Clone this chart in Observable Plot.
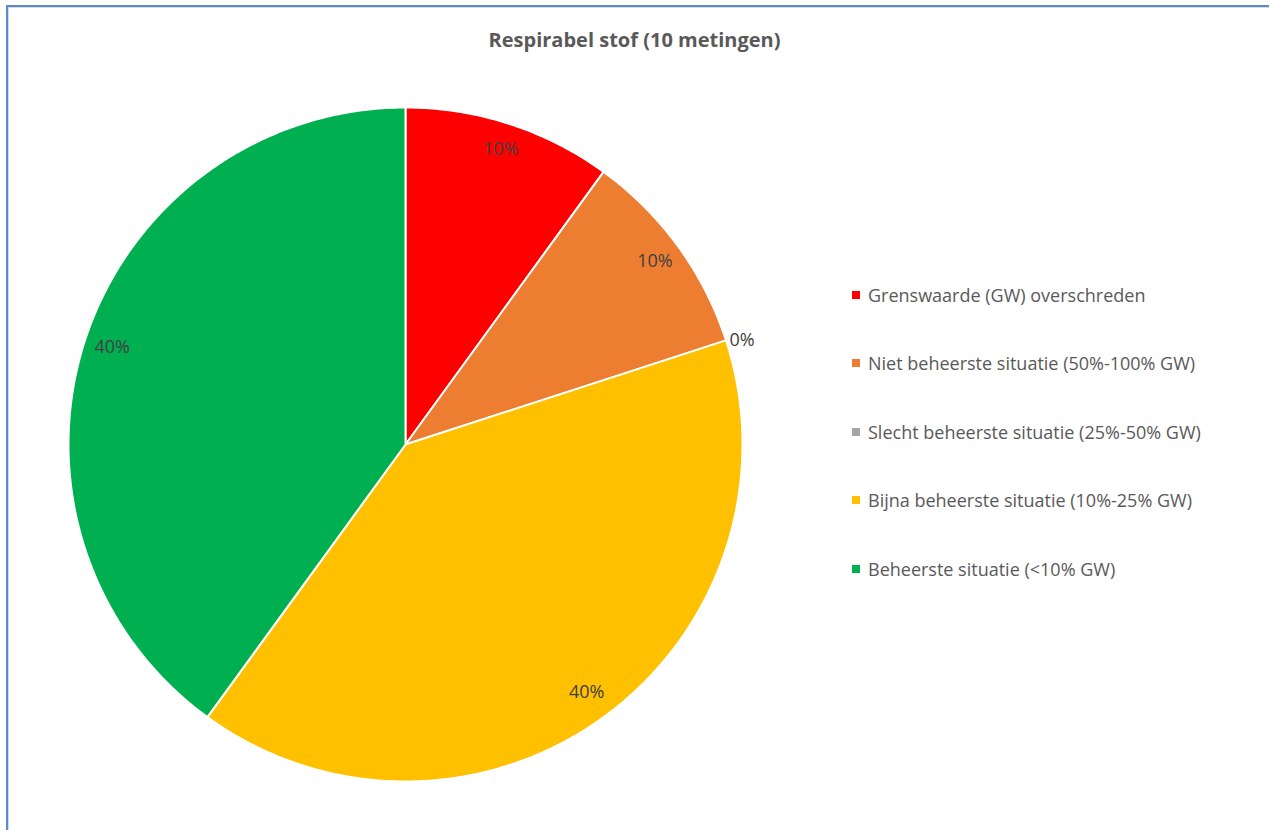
<!DOCTYPE html>
<html>
<head>
<meta charset="utf-8">
<script src="https://cdn.jsdelivr.net/npm/d3@7"></script>
<script src="https://cdn.jsdelivr.net/npm/@observablehq/plot@0.6"></script>
<style>
  html, body { margin: 0; padding: 0; background: #fff; }
  body { width: 1269px; height: 830px; position: relative; overflow: hidden; font-family: "Open Sans", Lato, sans-serif; }
  #frame { position: absolute; left: 6px; top: 5px; width: 1300px; height: 900px;
           border-left: 2px solid #5B8BC8; border-top: 2px solid #5B8BC8;
           box-shadow: inset 1px 1px 0 #d9d9d9; }
  #title { position: absolute; left: 0; top: 0; width: 1269px; height: 90px; text-align: center;
           font-weight: bold; font-size: 20px; color: #595959; line-height: 80px; }
  #chart { position: absolute; left: 0; top: 90px; }
  #legend { position: absolute; left: 852px; top: 0; }
  .row { position: absolute; left: 0; white-space: nowrap; font-size: 18px; color: #595959; transform: translateY(-50%); display: flex; align-items: center; }
  .sw { width: 8px; height: 8px; margin-right: 8px; display: inline-block; }
</style>
</head>
<body>
<div id="frame"></div>
<div id="title">Respirabel stof (10 metingen)</div>
<div id="chart"></div>
<div id="legend"></div>
<script>
const categories = [
  "Grenswaarde (GW) overschreden",
  "Niet beheerste situatie (50%-100% GW)",
  "Slecht beheerste situatie (25%-50% GW)",
  "Bijna beheerste situatie (10%-25% GW)",
  "Beheerste situatie (<10% GW)"
];
const counts = [1, 1, 0, 4, 4];
const colors = ["#FF0000", "#ED7D31", "#A5A5A5", "#FFC000", "#00B050"];

const total = d3.sum(counts);
const arcs = d3.pie().sort(null).value(d => d)(counts);

// slice outlines in unit-circle coordinates derived from the pie layout
const slices = [];
arcs.forEach((a, i) => {
  if (a.endAngle - a.startAngle <= 0) return;
  slices.push({cat: categories[i], x: 0, y: 0});
  const n = Math.max(2, Math.ceil((a.endAngle - a.startAngle) / 0.01));
  for (let k = 0; k <= n; k++) {
    const t = a.startAngle + (a.endAngle - a.startAngle) * k / n;
    slices.push({cat: categories[i], x: Math.sin(t), y: Math.cos(t)});
  }
});

const labels = arcs.map((a, i) => {
  const mid = (a.startAngle + a.endAngle) / 2;
  const r = counts[i] === 0 ? 1.05 : 0.915;
  return {x: r * Math.sin(mid), y: r * Math.cos(mid), text: d3.format(".0%")(counts[i] / total), zero: counts[i] === 0};
});

const R = 337;
const plot = Plot.plot({
  width: 800,
  height: 740,
  marginLeft: 405 - R,
  marginRight: 800 - (405 + R),
  marginTop: 354 - R,
  marginBottom: 740 - (354 + R),
  x: {domain: [-1, 1], axis: null},
  y: {domain: [-1, 1], axis: null},
  color: {domain: categories, range: colors},
  style: {background: "transparent", overflow: "visible", fontFamily: "'Open Sans', Lato, sans-serif"},
  marks: [
    Plot.line(slices, {x: "x", y: "y", z: "cat", fill: "cat", stroke: "white", strokeWidth: 2, curve: "linear-closed", strokeLinejoin: "round"}),
    Plot.text(labels.filter(d => !d.zero), {x: "x", y: "y", text: "text", fill: "#404040", fontSize: 18, dy: -2, textAnchor: "middle"}),
    Plot.text(labels.filter(d => d.zero), {x: "x", y: "y", text: "text", fill: "#404040", fontSize: 18, dy: 5, textAnchor: "middle"})
  ]
});
document.getElementById("chart").appendChild(plot);

const legend = document.getElementById("legend");
const rowY = [295, 363, 432, 500, 569];
categories.forEach((c, i) => {
  const row = document.createElement("div");
  row.className = "row";
  row.style.top = rowY[i] + "px";
  const sw = document.createElement("span");
  sw.className = "sw";
  sw.style.background = colors[i];
  row.appendChild(sw);
  row.appendChild(document.createTextNode(c));
  legend.appendChild(row);
});
</script>
</body>
</html>
